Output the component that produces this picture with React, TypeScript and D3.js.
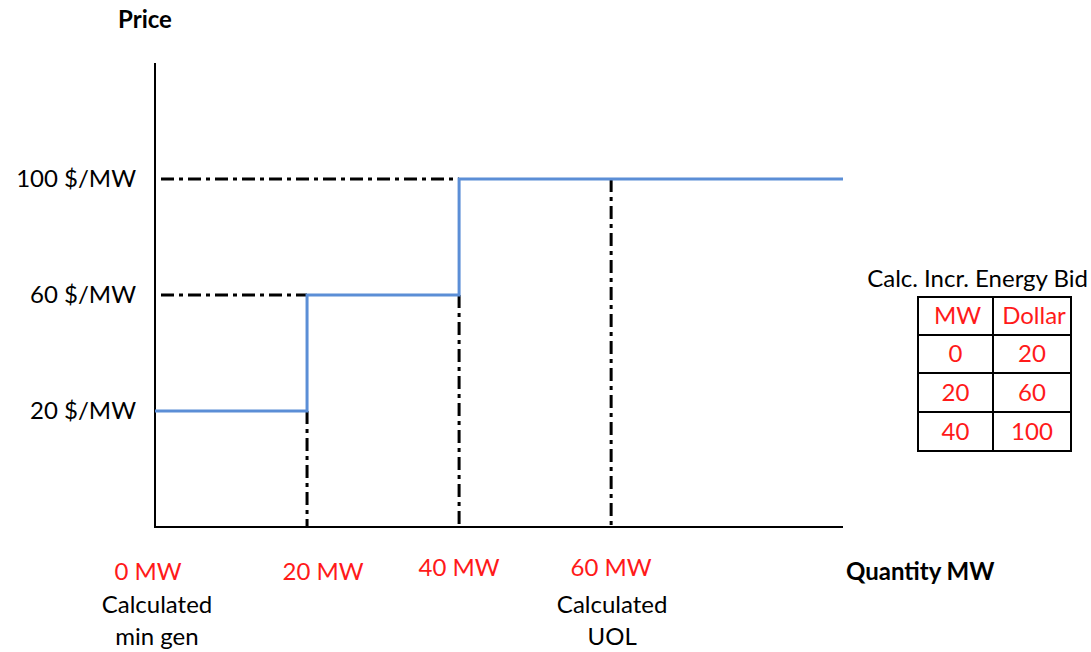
import React from "react";
import * as d3 from "d3";

const bidMW = [0, 20, 40];
const bidPrice = [20, 60, 100];
const xEnd = 90.5;
const yTicks = [20, 60, 100];
const yTickLabels = ["20 $/MW", "60 $/MW", "100 $/MW"];
const xTicks = [0, 20, 40, 60];
const xTickLabels = ["0 MW", "20 MW", "40 MW", "60 MW"];
const xTickLabelDy = [0, 0, -4, -4];
const uolMW = 60;
const tableTitle = "Calc. Incr. Energy Bid";
const tableHeaders = ["MW", "Dollar"];

const W = 1091;
const H = 652;
const FONT = "Lato, 'Open Sans', sans-serif";
const RED = "#ff1a1a";
const BLUE = "#5b8ed6";
const DASH = "13,5,4,5";
const FS = 24;

export default function App() {
  const x = d3.scaleLinear().domain([0, xEnd]).range([155, 843]);
  const y = d3.scaleLinear().domain([-20, 140]).range([527, 63]);

  const stepPts: [number, number][] = bidMW.map((m, i) => [m, bidPrice[i]]);
  stepPts.push([xEnd, bidPrice[bidPrice.length - 1]]);
  const line = d3
    .line<[number, number]>()
    .x((d) => x(d[0]))
    .y((d) => y(d[1]))
    .curve(d3.curveStepAfter);

  const hGuides = bidMW.slice(1).map((m, i) => ({ x2: x(m), yv: y(bidPrice[i + 1]) }));
  const vGuides = [
    ...bidMW.slice(1).map((m, i) => ({ xv: x(m), y1: y(bidPrice[i]) })),
    { xv: x(uolMW), y1: y(bidPrice[bidPrice.length - 1]) },
  ];

  const tx = [918, 993, 1071];
  const ty = [297, 335, 373, 412, 451];
  const rows = bidMW.map((m, i) => [String(m), String(bidPrice[i])]);

  return (
    <svg
      width={W}
      height={H}
      style={{ position: "absolute", left: 0, top: 0, background: "#fff" }}
      fontFamily={FONT}
    >
      <rect width={W} height={H} fill="#fff" />
      {hGuides.map((g, i) => (
        <line key={"h" + i} x1={161} x2={g.x2} y1={g.yv} y2={g.yv} stroke="#000" strokeWidth={3} strokeDasharray={DASH} />
      ))}
      {vGuides.map((g, i) => (
        <line key={"v" + i} x1={g.xv} x2={g.xv} y1={g.y1} y2={y(-20)} stroke="#000" strokeWidth={3} strokeDasharray={DASH} />
      ))}
      <line x1={155} x2={155} y1={63} y2={528} stroke="#000" strokeWidth={2} />
      <line x1={154} x2={843} y1={527} y2={527} stroke="#000" strokeWidth={2} />
      <path d={line(stepPts) || ""} fill="none" stroke={BLUE} strokeWidth={3} />
      {yTicks.map((t, i) => (
        <text key={"yt" + i} x={136} y={y(t)} dy="0.35em" textAnchor="end" fontSize={FS} fill="#000">
          {yTickLabels[i]}
        </text>
      ))}
      <text x={145} y={20} dy="0.35em" textAnchor="middle" fontSize={FS} fontWeight="bold" fill="#000">
        Price
      </text>
      {xTicks.map((t, i) => (
        <text key={"xt" + i} x={x(t) + (i === 0 ? -7 : i === 1 ? 16 : 0)} y={572 + xTickLabelDy[i]} dy="0.35em" textAnchor="middle" fontSize={FS} fill={RED}>
          {xTickLabels[i]}
        </text>
      ))}
      <text x={157} y={605} dy="0.35em" textAnchor="middle" fontSize={FS} fill="#000">Calculated</text>
      <text x={157} y={637} dy="0.35em" textAnchor="middle" fontSize={FS} fill="#000">min gen</text>
      <text x={x(uolMW) + 1} y={605} dy="0.35em" textAnchor="middle" fontSize={FS} fill="#000">Calculated</text>
      <text x={x(uolMW) + 1} y={637} dy="0.35em" textAnchor="middle" fontSize={FS} fill="#000">UOL</text>
      <text x={846} y={572} dy="0.35em" textAnchor="start" fontSize={FS} fontWeight="bold" fill="#000">
        Quantity MW
      </text>
      <text x={1088} y={279} dy="0.35em" textAnchor="end" fontSize={FS} fill="#000">{tableTitle}</text>
      <rect x={tx[0]} y={ty[0]} width={tx[2] - tx[0]} height={ty[4] - ty[0]} fill="none" stroke="#000" strokeWidth={2} />
      <line x1={tx[1]} x2={tx[1]} y1={ty[0]} y2={ty[4]} stroke="#000" strokeWidth={2} />
      {ty.slice(1, 4).map((yy, i) => (
        <line key={"tr" + i} x1={tx[0]} x2={tx[2]} y1={yy} y2={yy} stroke="#000" strokeWidth={2} />
      ))}
      {tableHeaders.map((h, c) => (
        <text key={"th" + c} x={(tx[c] + tx[c + 1]) / 2 + 2} y={(ty[0] + ty[1]) / 2} dy="0.35em" textAnchor="middle" fontSize={FS} fill={RED}>
          {h}
        </text>
      ))}
      {rows.map((r, ri) =>
        r.map((v, c) => (
          <text key={"td" + ri + c} x={(tx[c] + tx[c + 1]) / 2} y={(ty[ri + 1] + ty[ri + 2]) / 2} dy="0.35em" textAnchor="middle" fontSize={FS} fill={RED}>
            {v}
          </text>
        ))
      )}
    </svg>
  );
}
